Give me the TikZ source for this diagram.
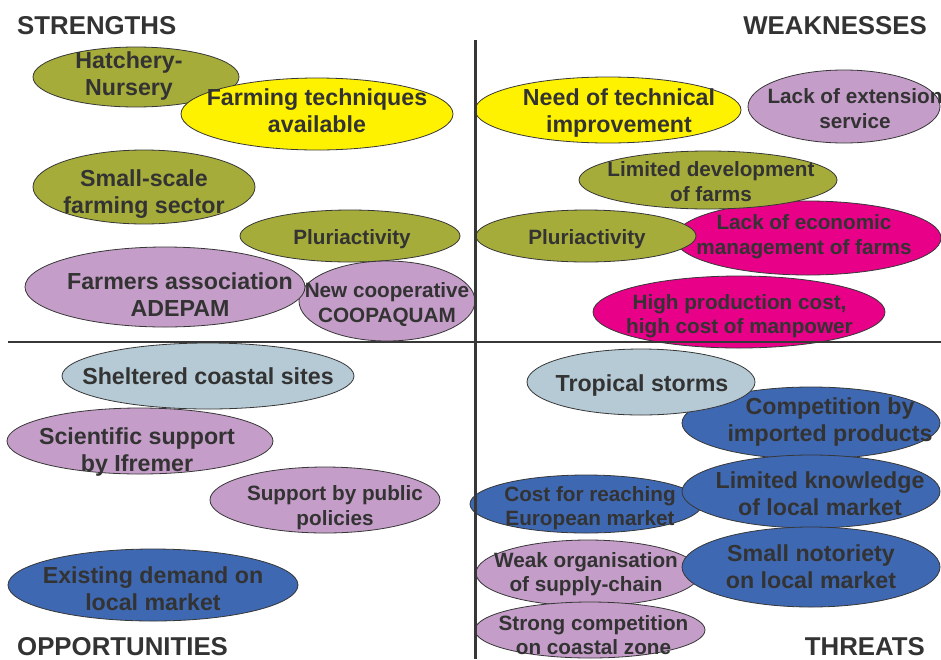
\documentclass[tikz,border=0pt]{standalone}
\usepackage{fontspec}
\setmainfont{Liberation Sans}
\definecolor{olivef}{RGB}{166,172,57}
\definecolor{yellowf}{RGB}{255,242,0}
\definecolor{lilacf}{RGB}{196,157,200}
\definecolor{magf}{RGB}{232,0,136}
\definecolor{palef}{RGB}{181,202,212}
\definecolor{bluef}{RGB}{62,104,178}
\definecolor{txtc}{RGB}{51,51,51}
\definecolor{linec}{RGB}{55,55,55}
\tikzset{
  blob/.style={draw=linec, line width=0.8pt},
  bigtxt/.style={font=\fontsize{23.2}{27}\selectfont\bfseries, text=txtc, align=center, inner sep=0pt},
  smalltxt/.style={font=\fontsize{20.7}{24.5}\selectfont\bfseries, text=txtc, align=center, inner sep=0pt},
  head/.style={font=\fontsize{25.8}{30}\selectfont\bfseries, text=txtc, inner sep=0pt},
  axisline/.style={draw=linec, line width=2.6pt}
}
\begin{document}
\begin{tikzpicture}[x=1pt,y=-1pt]
\useasboundingbox (0,0) rectangle (941,659);
\fill[white] (0,0) rectangle (941,659);
\clip (0,0) rectangle (941,659);

% ---- Strengths
\draw[blob, fill=olivef] (136,77) ellipse [x radius=103, y radius=30];
\node[bigtxt] (hatch) at (129,76.5) {\strut Hatchery-\\\strut Nursery};
\draw[blob, fill=yellowf] (317,114) ellipse [x radius=136, y radius=36];
\node[bigtxt] (farm) at (317,114) {\strut Farming techniques\\\strut available};
\draw[blob, fill=olivef] (144,187) ellipse [x radius=111, y radius=37];
\node[bigtxt] (small) at (144,194.5) {\strut Small-scale\\\strut farming sector};
\draw[blob, fill=olivef] (350,236) ellipse [x radius=110, y radius=26];
\node[smalltxt] (pluriS) at (352,239.5) {\strut Pluriactivity};
\draw[blob, fill=lilacf] (387,301) ellipse [x radius=88, y radius=40];
\node[smalltxt] (coop) at (387,305) {\strut New cooperative\\\strut COOPAQUAM};
\draw[blob, fill=lilacf] (165,287) ellipse [x radius=140, y radius=40];
\node[bigtxt] (farmers) at (180,297.5) {\strut Farmers association\\\strut ADEPAM};

% ---- Weaknesses
\draw[blob, fill=yellowf] (608,110) ellipse [x radius=133, y radius=33];
\node[bigtxt] (need) at (619,114) {\strut Need of technical\\\strut improvement};
\draw[blob, fill=lilacf] (844,106.5) ellipse [x radius=96, y radius=36.5];
\node[smalltxt] (ext) at (855,111) {\strut Lack of extension\\\strut service};
\draw[blob, fill=magf] (808,238) ellipse [x radius=133, y radius=37];
\node[smalltxt] (econ) at (804,237) {\strut Lack of economic\\\strut management of farms};
\draw[blob, fill=olivef] (708,180) ellipse [x radius=129, y radius=29];
\node[smalltxt] (limdev) at (711,184) {\strut Limited development\\\strut of farms};
\draw[blob, fill=olivef] (586,236) ellipse [x radius=110, y radius=26];
\node[smalltxt] (pluriW) at (587,239.5) {\strut Pluriactivity};
\draw[blob, fill=magf] (739,312) ellipse [x radius=146, y radius=36];
\node[smalltxt] (high) at (739.5,316.5) {\strut High production cost,\\\strut high cost of manpower};

% ---- Opportunities
\draw[blob, fill=palef] (208,376) ellipse [x radius=146, y radius=33];
\node[bigtxt] (shelter) at (208,379) {\strut Sheltered coastal sites};
\draw[blob, fill=lilacf] (140,441) ellipse [x radius=133, y radius=33];
\node[bigtxt] (sci) at (137,452.5) {\strut Scientific support\\\strut by Ifremer};
\draw[blob, fill=lilacf] (325,500) ellipse [x radius=115, y radius=33];
\node[smalltxt] (pub) at (335,508) {\strut Support by public\\\strut policies};
\draw[blob, fill=bluef] (153,585) ellipse [x radius=145, y radius=36];
\node[bigtxt] (demand) at (153,592) {\strut Existing demand on\\\strut local market};

% ---- Threats
\draw[blob, fill=bluef] (811,423) ellipse [x radius=129, y radius=36];
\node[bigtxt] (comp) at (830,423) {\strut Competition by\\\strut imported products};
\draw[blob, fill=palef] (641,382) ellipse [x radius=114, y radius=33];
\node[bigtxt] (storm) at (642,386) {\strut Tropical storms};
\draw[blob, fill=bluef] (586,504) ellipse [x radius=116, y radius=29];
\node[smalltxt] (cost) at (590,508.5) {\strut Cost for reaching\\\strut European market};
\draw[blob, fill=bluef] (811,491.5) ellipse [x radius=129, y radius=36.5];
\node[bigtxt] (know) at (820,497) {\strut Limited knowledge\\\strut of local market};
\draw[blob, fill=lilacf] (588,573) ellipse [x radius=112, y radius=33];
\node[smalltxt] (weak) at (586,574.5) {\strut Weak organisation\\\strut of supply-chain};
\draw[blob, fill=bluef] (811,567) ellipse [x radius=129, y radius=40];
\node[bigtxt] (noto) at (811,570) {\strut Small notoriety\\\strut on local market};
\draw[blob, fill=lilacf] (590,630) ellipse [x radius=115, y radius=28];
\node[smalltxt] (strong) at (593.5,637.5) {\strut Strong competition\\\strut on coastal zone};

% ---- axes
\coordinate (hl) at (8,342);
\coordinate (hr) at (941,342);
\coordinate (vt) at (475,40);
\coordinate (vb) at (475,659);
\draw[axisline, line width=2.4pt] (hl) -- (hr);
\draw[axisline, line width=3pt] (vt) -- (vb);

% ---- headings
\node[head, anchor=base west] (hS) at (17,34) {STRENGTHS};
\node[head, anchor=base east] (hW) at (927,34) {WEAKNESSES};
\node[head, anchor=base west] (hO) at (17,655) {OPPORTUNITIES};
\node[head, anchor=base east] (hT) at (925,655) {THREATS};
\end{tikzpicture}
\end{document}
